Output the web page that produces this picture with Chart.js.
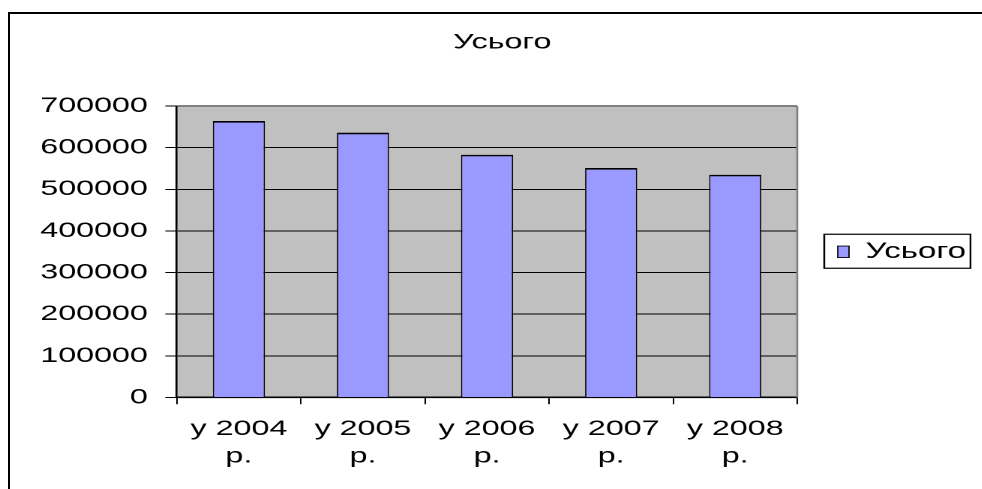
<!DOCTYPE html>
<html>
<head>
<meta charset="utf-8">
<script src="https://cdn.jsdelivr.net/npm/chart.js@4.4.0/dist/chart.umd.min.js"></script>
<style>
    html, body { margin: 0; padding: 0; background: #fff; overflow: hidden; }
    body { width: 982px; height: 489px; position: relative; }
    #frame { position: absolute; left: 8px; top: 12px; width: 2000px; height: 1000px; border: 2px solid #000; }
    #chart { position: absolute; left: 0; top: 0; transform: scaleX(1.5); transform-origin: 0 0; }
</style>
</head>
<body>
<div id="frame"></div>
<canvas id="chart" width="655" height="489"></canvas>
<script>
// Data
const categories = [['у 2004', 'р.'], ['у 2005', 'р.'], ['у 2006', 'р.'], ['у 2007', 'р.'], ['у 2008', 'р.']];
const totals = [664000, 636000, 583000, 551000, 535000];
const seriesName = 'Усього';
const yMin = 0;
const yMax = 700000;
const yStep = 100000;

const font = 'Liberation Sans, Arial, sans-serif';

// grey plot area, plus Excel style plot border and legend frame
const excelLook = {
    id: 'excelLook',
    beforeDraw(chart) {
        const a = chart.chartArea;
        const ctx = chart.ctx;
        ctx.save();
        ctx.fillStyle = '#C0C0C0';
        ctx.fillRect(a.left, a.top, a.right - a.left, a.bottom - a.top);
        ctx.restore();
    },
    afterDraw(chart) {
        const a = chart.chartArea;
        const ctx = chart.ctx;
        ctx.save();
        ctx.strokeStyle = '#808080';
        ctx.lineWidth = 2;
        ctx.beginPath();
        ctx.moveTo(a.left + 1, a.top);
        ctx.lineTo(a.right, a.top);
        ctx.stroke();
        ctx.lineWidth = 1.3;
        ctx.beginPath();
        ctx.moveTo(a.right, a.top);
        ctx.lineTo(a.right, a.bottom);
        ctx.stroke();

        const hb = chart.legend.legendHitBoxes[0];
        if (hb) {
            ctx.strokeStyle = '#000';
            ctx.lineWidth = 1.2;
            ctx.strokeRect(hb.left - 9, hb.top - 6.5, hb.width + 12, hb.height + 12);
        }
        ctx.restore();
    }
};

const ctx = document.getElementById('chart').getContext('2d');
const chart = new Chart(ctx, {
    type: 'bar',
    data: {
        labels: categories,
        datasets: [{
            label: seriesName,
            data: totals,
            backgroundColor: '#9999FF',
            borderColor: '#000',
            borderWidth: { top: 1.7, left: 0.9, right: 0.9, bottom: 0 },
            barPercentage: 0.42,
            categoryPercentage: 1
        }]
    },
    options: {
        responsive: false,
        animation: false,
        devicePixelRatio: 2,
        layout: {
            padding: { left: 24.8, right: 10, top: 0, bottom: 19 }
        },
        scales: {
            x: {
                grid: {
                    offset: true,
                    drawOnChartArea: false,
                    color: '#000',
                    tickLength: 6.7,
                    lineWidth: 1
                },
                border: { color: '#000', width: 1.6 },
                ticks: {
                    color: '#000',
                    padding: 11.3,
                    maxRotation: 0,
                    autoSkip: false,
                    font: { family: font, size: 21.5, lineHeight: 1.27 }
                },
                afterFit: function(scale) { scale.height = 72.5; }
            },
            y: {
                min: yMin,
                max: yMax,
                grid: {
                    color: '#000',
                    lineWidth: 1,
                    tickLength: 7.7
                },
                border: { color: '#000', width: 1.3 },
                ticks: {
                    stepSize: yStep,
                    color: '#000',
                    padding: 11.6,
                    font: { family: font, size: 21.5 },
                    callback: function(value) { return String(value); }
                },
                afterFit: function(scale) { scale.width = 93.1; }
            }
        },
        plugins: {
            title: {
                display: true,
                text: seriesName,
                color: '#000',
                font: { family: font, size: 21.5, weight: 'normal', lineHeight: 1.2 },
                padding: { top: 29.6, bottom: 50.6 }
            },
            legend: {
                position: 'right',
                fullSize: false,
                maxWidth: 113.5,
                labels: {
                    color: '#000',
                    boxWidth: 7.5,
                    boxHeight: 11.5,
                    padding: 27,
                    font: { family: font, size: 22 }
                }
            },
            tooltip: { enabled: false }
        }
    },
    plugins: [excelLook]
});
</script>
</body>
</html>
